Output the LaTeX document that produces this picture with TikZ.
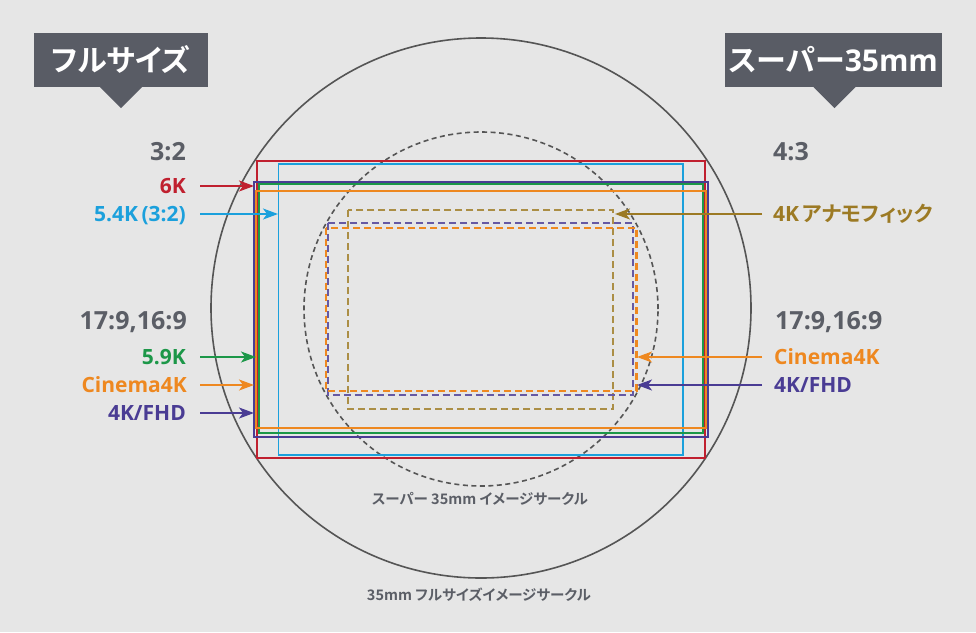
\documentclass[tikz,border=0pt]{standalone}
\usepackage{fontspec}
\setmainfont{Open Sans}
\newfontfamily\jp[BoldFont={Noto Sans CJK JP Bold},RawFeature=+palt]{Noto Sans CJK JP}
\usetikzlibrary{arrows.meta}
\definecolor{bg}{HTML}{E6E6E6}
\definecolor{boxc}{HTML}{595C65}
\definecolor{graytxt}{HTML}{5B5E66}
\definecolor{circc}{HTML}{555555}
\definecolor{cred}{HTML}{C0202F}
\definecolor{ccyan}{HTML}{1BA0DC}
\definecolor{cpurple}{HTML}{4A3C94}
\definecolor{cgreen}{HTML}{1C9748}
\definecolor{corange}{HTML}{EE8820}
\definecolor{cbrown}{HTML}{9C7A24}
\tikzset{
  lab/.style={inner sep=0pt, font=\bfseries\fontsize{21}{21}\selectfont, text height=15pt, text depth=0pt},
  ratio/.style={inner sep=0pt, font=\bfseries\fontsize{25}{25}\selectfont, text height=18pt, text depth=0pt, text=graytxt},
  frame/.style={line width=1.8pt},
  dframe/.style={line width=2.1pt, dash pattern=on 7pt off 4pt},
  arr/.style={-{Stealth[length=15pt,width=11pt,inset=4pt]}, line width=1.5pt},
  callout/.style={fill=boxc, inner sep=0pt, text=white, minimum height=54pt, font=\bfseries\fontsize{30}{30}\selectfont},
  circlbl/.style={inner sep=0pt, text=graytxt, font=\bfseries\fontsize{14.5}{14.5}\selectfont\jp},
}
\begin{document}
\begin{tikzpicture}[x=1pt,y=-1pt]
\fill[bg] (0,0) rectangle (976,632);
\useasboundingbox (0,0) rectangle (976,632);

% image circles
\draw[circc, line width=1.6pt] (481,308) circle[radius=270pt];
\draw[circc, line width=1.6pt, dash pattern=on 5pt off 3.5pt] (481,309) circle[radius=177pt];

% solid frames
\draw[frame, cred] (256.7,160.7) rectangle (705,458.3);
\draw[frame, ccyan] (278.5,163.7) rectangle (683.3,455);
\draw[frame, cpurple] (253.7,181.7) rectangle (708.3,436.7);
\draw[frame, cgreen] (259.3,184.3) rectangle (703,432.7);
\draw[frame, corange] (256,190.7) rectangle (705.7,428.3);

% dashed frames (Super35)
\draw[dframe, cbrown!85!white] (347.7,210) rectangle (613.3,408.7);
\draw[dframe, cpurple!85!white] (328.3,223.3) rectangle (633.3,394.7);
\draw[dframe, corange] (326,227.7) rectangle (636.5,390.7);

% callouts
\node[callout, minimum width=174pt] (tfull) at (121,60) {\jp フルサイズ};
\fill[boxc] ([xshift=-21pt]tfull.south) -- ([xshift=21pt]tfull.south) -- ([yshift=-21pt]tfull.south) -- cycle;
\node[callout, minimum width=217pt] (tsuper) at (833.5,60) {{\jp スーパー}35mm};
\fill[boxc] ([xshift=-20pt]tsuper.south) -- ([xshift=22pt]tsuper.south) -- ([xshift=1pt,yshift=-21pt]tsuper.south) -- cycle;

% left labels
\node[ratio, anchor=east] (r32) at (186,151) {3:2};
\node[lab, anchor=east, text=cred] (l6k) at (186,186) {6K};
\node[lab, anchor=east, text=ccyan] (l54k) at (186,214) {5.4K\,(3:2)};
\node[ratio, anchor=east] (r169l) at (187,320) {17:9,16:9};
\node[lab, anchor=east, text=cgreen] (l59k) at (186,357) {5.9K};
\node[lab, anchor=east, text=corange] (lc4k) at (187,385) {Cinema4K};
\node[lab, anchor=east, text=cpurple] (lfhd) at (186,413) {4K/FHD};

% right labels
\node[ratio, anchor=west] (r43) at (773,151) {4:3};
\node[lab, anchor=west, text=cbrown] (lana) at (773,214) {4K\,{\jp アナモフィック}};
\node[ratio, anchor=west] (r169r) at (775,320) {17:9,16:9};
\node[lab, anchor=west, text=corange] (rc4k) at (774,357) {Cinema4K};
\node[lab, anchor=west, text=cpurple] (rfhd) at (774,385) {4K/FHD};

% arrow tips
\coordinate (t6k) at (254,186);
\coordinate (t54k) at (278,214);
\coordinate (t59k) at (256,357);
\coordinate (tc4k) at (254,385);
\coordinate (tfhd) at (254,413);
\coordinate (tana) at (615,214);
\coordinate (trc4k) at (637,357);
\coordinate (trfhd) at (637,385);

\draw[arr, cred] (l6k.east) ++(14pt,0) -- (t6k);
\draw[arr, ccyan] (l54k.east) ++(14pt,0) -- (t54k);
\draw[arr, cgreen] (l59k.east) ++(14pt,0) -- (t59k);
\draw[arr, corange] (lc4k.east) ++(13pt,0) -- (tc4k);
\draw[arr, cpurple] (lfhd.east) ++(14pt,0) -- (tfhd);
\draw[arr, cbrown] (lana.west) ++(-11pt,0) -- (tana);
\draw[arr, corange] (rc4k.west) ++(-12pt,0) -- (trc4k);
\draw[arr, cpurple] (rfhd.west) ++(-12pt,0) -- (trfhd);

% circle captions
\node[circlbl] (cap35) at (480,499) {スーパー 35mm イメージサークル};
\node[circlbl] (capff) at (479,595) {35mm フルサイズイメージサークル};
\end{tikzpicture}
\end{document}
